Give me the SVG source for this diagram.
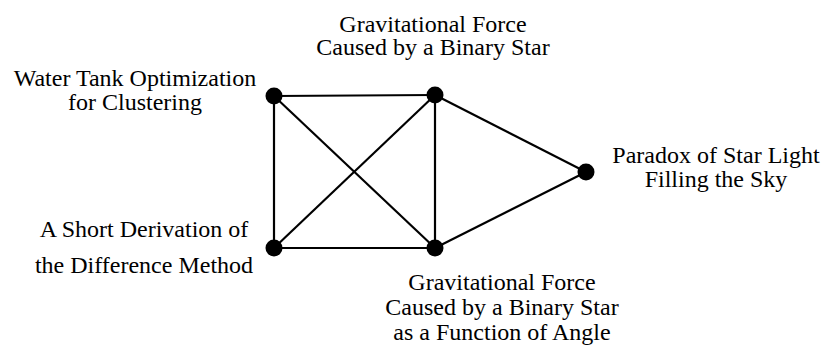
<svg xmlns="http://www.w3.org/2000/svg" width="828" height="354" viewBox="0 0 828 354">
<style>
  .lbl { font-family: 'Liberation Serif', 'Times New Roman', serif; font-size: 24px; fill: #000; text-anchor: middle; }
  .edge { stroke: #000; stroke-width: 2.2; fill: none; }
  .dot { fill: #000; }
</style>
<rect width="828" height="354" fill="#fff"/>
<g id="connectors">
  <line class="edge" x1="274" y1="96" x2="435" y2="95"/>
  <line class="edge" x1="274" y1="96" x2="274" y2="248"/>
  <line class="edge" x1="274" y1="96" x2="435" y2="248"/>
  <line class="edge" x1="435" y1="95" x2="274" y2="248"/>
  <line class="edge" x1="435" y1="95" x2="435" y2="248"/>
  <line class="edge" x1="435" y1="95" x2="586" y2="172"/>
  <line class="edge" x1="274" y1="248" x2="435" y2="248"/>
  <line class="edge" x1="435" y1="248" x2="586" y2="172"/>
</g>
<g id="node-water-tank">
  <circle class="dot" cx="274" cy="96" r="8.5"/>
  <text class="lbl" x="135" y="86">Water Tank Optimization</text>
  <text class="lbl" x="135" y="110">for Clustering</text>
</g>
<g id="node-grav-binary">
  <circle class="dot" cx="435" cy="95" r="8.5"/>
  <text class="lbl" x="433" y="32">Gravitational Force</text>
  <text class="lbl" x="433" y="55">Caused by a Binary Star</text>
</g>
<g id="node-paradox">
  <circle class="dot" cx="586" cy="172" r="8.5"/>
  <text class="lbl" x="716" y="163">Paradox of Star Light</text>
  <text class="lbl" x="716" y="187">Filling the Sky</text>
</g>
<g id="node-short-derivation">
  <circle class="dot" cx="274" cy="248" r="8.5"/>
  <text class="lbl" x="144" y="237">A Short Derivation of</text>
  <text class="lbl" x="144" y="273">the Difference Method</text>
</g>
<g id="node-grav-angle">
  <circle class="dot" cx="435" cy="248" r="8.5"/>
  <text class="lbl" x="502" y="290">Gravitational Force</text>
  <text class="lbl" x="502" y="315">Caused by a Binary Star</text>
  <text class="lbl" x="502" y="340">as a Function of Angle</text>
</g>
</svg>
